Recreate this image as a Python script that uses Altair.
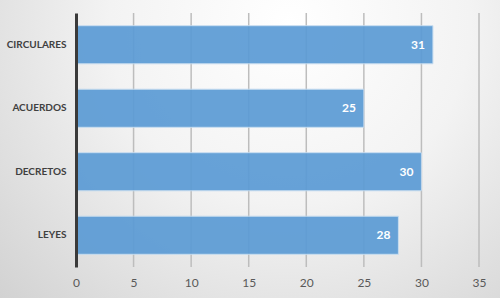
import altair as alt
import pandas as pd

categories = ["CIRCULARES", "ACUERDOS", "DECRETOS", "LEYES"]
values = [31, 25, 30, 28]
x_ticks = [0, 5, 10, 15, 20, 25, 30, 35]

df = pd.DataFrame({"cat": categories, "val": values})
bgdf = pd.DataFrame({"a": [0]})
griddf = pd.DataFrame({"t": x_ticks[1:]})

W, H = 403, 254
PL, PT, PR, PB = 76, 13, 21, 31

grad = alt.RadialGradient(
    gradient="radial",
    stops=[
        alt.GradientStop(offset=0, color="#ffffff"),
        alt.GradientStop(offset=0.45, color="#f3f3f3"),
        alt.GradientStop(offset=1, color="#d2d2d2"),
    ],
    x1=0.58, y1=0.25, r1=0, x2=0.58, y2=0.25, r2=0.8,
)

bg = alt.Chart(bgdf).mark_rect(color=grad).encode(
    x=alt.value(-PL), x2=alt.value(W + PR), y=alt.value(-PT), y2=alt.value(H + PB)
)

grid = alt.Chart(griddf).mark_rule(color="#bdbdbd", strokeWidth=1.5).encode(
    x=alt.X("t:Q"), y=alt.value(0), y2=alt.value(H)
)

base = alt.Chart(df)

bars = base.mark_bar(color="#5b9bd5", opacity=0.92, stroke="#c5dcf0", strokeWidth=1).encode(
    y=alt.Y("cat:N", sort=categories, title=None,
            scale=alt.Scale(paddingInner=0.4, paddingOuter=0.2),
            axis=alt.Axis(labelFont="Lato", labelFontWeight="bold", labelFontSize=10,
                          labelColor="#404040", ticks=False, labelPadding=10,
                          domainColor="#3a3a3a", domainWidth=3, grid=False, zindex=1)),
    x=alt.X("val:Q", title=None,
            scale=alt.Scale(domain=[0, 35], nice=False),
            axis=alt.Axis(values=x_ticks, labelFont="Lato", labelFontSize=12,
                          labelColor="#595959", ticks=False, domain=False, labelPadding=10,
                          labelFlush=False, grid=False, zindex=1)),
)

text = base.mark_text(align="right", baseline="middle", dx=-8, color="white",
                      font="Lato", fontWeight="bold", fontSize=12).encode(
    y=alt.Y("cat:N", sort=categories),
    x=alt.X("val:Q"),
    text=alt.Text("val:Q"),
)

chart = alt.layer(bg, grid, bars, text).properties(
    width=W, height=H,
    autosize=alt.AutoSizeParams(type="none"),
    padding={"left": PL, "top": PT, "right": PR, "bottom": PB},
    background="#e4e4e4",
).configure_view(stroke=None)

chart.save("out.html", embed_options={"renderer": "svg", "actions": False})
